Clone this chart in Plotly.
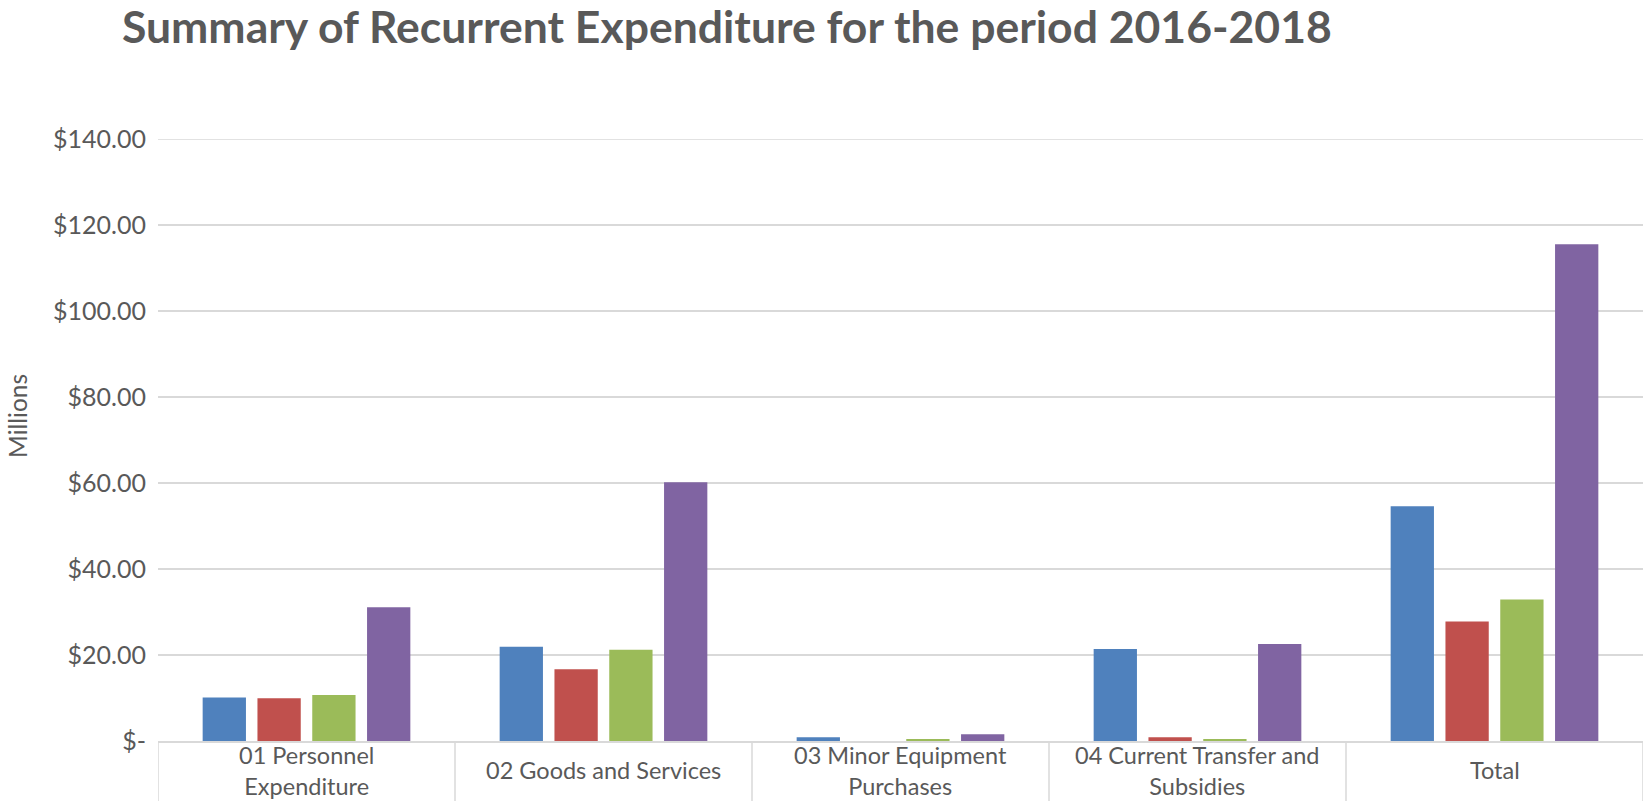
import plotly.graph_objects as go

# Recurrent expenditure by economic classification (values in millions)
categories = [
    "01 Personnel<br>Expenditure",
    "02 Goods and Services",
    "03 Minor Equipment<br>Purchases",
    "04 Current Transfer and<br>Subsidies",
    "Total",
]
series_names = ["2016", "2017", "2018", "Total"]
exp_2016 = [10.1, 21.9, 0.85, 21.4, 54.6]
exp_2017 = [9.96, 16.7, 0.0, 0.85, 27.8]
exp_2018 = [10.7, 21.2, 0.39, 0.4, 32.9]
exp_total = [31.1, 60.2, 1.55, 22.56, 115.5]

y_ticks = [0, 20, 40, 60, 80, 100, 120, 140]
y_tick_labels = ["$-", "$20.00", "$40.00", "$60.00", "$80.00", "$100.00", "$120.00", "$140.00"]
y_max = 140

colors = ["#4F81BD", "#C0504D", "#9BBB59", "#8064A2"]
text_color = "#595959"
grid_color = "#D9D9D9"
font_family = "Lato, 'Open Sans', sans-serif"

W, H = 1651, 801
m_l, m_r, m_t, m_b = 158, 8, 139, 60
plot_h = H - m_t - m_b

fig = go.Figure()
for name, vals, col in zip(series_names, [exp_2016, exp_2017, exp_2018, exp_total], colors):
    fig.add_trace(go.Bar(
        name=name, x=categories, y=vals,
        marker=dict(color=col, line=dict(width=0)),
    ))

# Category labels centred in the boxes under the axis
for cat in categories:
    fig.add_annotation(
        x=cat, xref="x", y=-29 / plot_h, yref="paper",
        text=cat, showarrow=False, yanchor="middle", xanchor="center",
        font=dict(family=font_family, size=23.5, color=text_color),
    )

# Box dividers between categories
for i in range(len(categories) + 1):
    fig.add_shape(
        type="line", xref="x", yref="paper",
        x0=i - 0.5, x1=i - 0.5, y0=0, y1=-(m_b + 5) / plot_h,
        line=dict(color=grid_color, width=1.5),
    )

# Top gridline sits on the plot edge, so draw it explicitly
fig.add_shape(
    type="line", xref="paper", yref="y",
    x0=0, x1=1, y0=y_max, y1=y_max,
    line=dict(color=grid_color, width=1.5), layer="below",
)

fig.add_annotation(
    text="Millions", textangle=-90, showarrow=False,
    xref="paper", yref="paper", x=(18 - m_l) / (W - m_l - m_r), y=0.54,
    xanchor="center", yanchor="middle",
    font=dict(family=font_family, size=24.5, color=text_color),
)

fig.update_layout(
    width=W, height=H,
    margin=dict(l=m_l, r=m_r, t=m_t, b=m_b),
    paper_bgcolor="white", plot_bgcolor="white",
    barmode="group", bargap=0.262, bargroupgap=0.21,
    showlegend=False,
    title=dict(
        text="<b>Summary of Recurrent Expenditure for the period 2016-2018</b>",
        x=122 / W, xref="container", xanchor="left",
        y=1 - 27 / H, yref="container", yanchor="middle",
        font=dict(family=font_family, size=44.5, color=text_color),
    ),
    xaxis=dict(
        range=[-0.5, len(categories) - 0.5],
        showticklabels=False, showgrid=False, zeroline=False,
        showline=True, linecolor=grid_color, linewidth=1.5,
        fixedrange=True,
    ),
    yaxis=dict(
        range=[0, y_max], tickvals=y_ticks, ticktext=y_tick_labels,
        showgrid=True, gridcolor=grid_color, gridwidth=1.5,
        zeroline=False, showline=False, ticks="",
        ticklabelstandoff=11,
        tickfont=dict(family=font_family, size=25, color=text_color),
        fixedrange=True,
    ),
)

fig.write_html("out.html")
